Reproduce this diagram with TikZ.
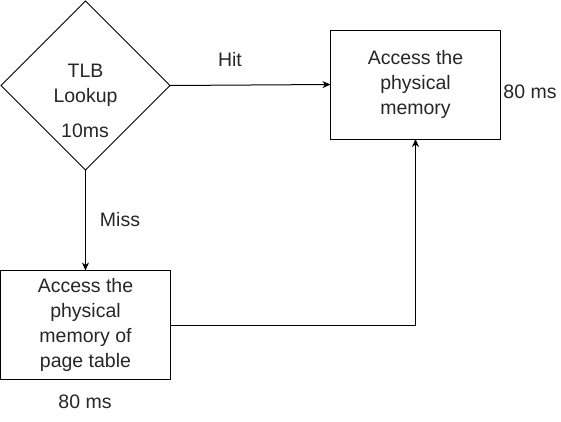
\documentclass[tikz,border=0pt]{standalone}
\usepackage{fontspec}
\setmainfont{Liberation Sans}
\usetikzlibrary{arrows.meta,shapes.geometric}

\begin{document}
\begin{tikzpicture}[x=1pt,y=-1pt,
  >={Stealth[length=8pt,width=7pt,inset=2.5pt]},
  font=\fontsize{19.5}{25}\selectfont,
  txt/.style={text=black!85},
  decision/.style={diamond,draw,line width=1pt,minimum width=169pt,minimum height=169pt,aspect=1,inner sep=0pt,outer sep=0pt,align=center,text=black!85},
  proc/.style={rectangle,draw,line width=1pt,minimum width=170pt,minimum height=109pt,inner sep=0pt,outer sep=0pt,align=center,text=black!85},
  link/.style={->,line width=1pt},
]
\useasboundingbox (0,0) rectangle (561,421);

% shapes
\node[decision] (tlb) at (85.5,85.5) {TLB\\Lookup};
\node[proc] (mem) at (415.5,84.5) {Access the\\physical\\memory};
\node[proc] (ptab) at (85.5,325) {Access the\\physical\\memory of\\page table};

% connectors
\draw[link] (tlb.east) -- (mem.west);
\draw[link] (tlb.south) -- (ptab.north);
\draw[link] (ptab.east) -| (mem.south);

% labels
\node[txt] (hit) at (230,60) {Hit};
\node[txt] (miss) at (120,220) {Miss};
\node[txt] (tlbtime) at (85,131) {10ms};
\node[txt] (memtime) at (530,92) {80 ms};
\node[txt] (ptabtime) at (85,402) {80 ms};
\end{tikzpicture}
\end{document}
